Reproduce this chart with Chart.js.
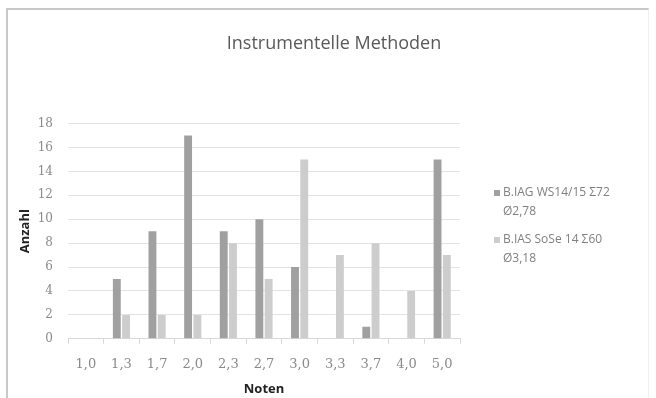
<!DOCTYPE html>
<html>
<head>
<meta charset="utf-8">
<script src="https://cdn.jsdelivr.net/npm/chart.js@4"></script>
<style>
html, body { margin: 0; padding: 0; background: #fff; }
#wrap { position: relative; width: 656px; height: 398px; }
#frame { position: absolute; left: 6px; top: 8px; width: 640px; height: 400px;
         border-left: 2px solid #c8c8c8; border-top: 2px solid #c8c8c8; border-right: 1px solid #f0f0f0;
         pointer-events: none; }
</style>
</head>
<body>
<div id="wrap">
  <canvas id="chart" width="656" height="398"></canvas>
  <div id="frame"></div>
</div>
<script>
const noten = ['1,0', '1,3', '1,7', '2,0', '2,3', '2,7', '3,0', '3,3', '3,7', '4,0', '5,0']
const iagWs = [0, 5, 9, 17, 9, 10, 6, 0, 1, 0, 15]
const iasSs = [0, 2, 2, 2, 8, 5, 15, 7, 8, 4, 7]
const iagLabel = ['B.IAG WS14/15 Σ72', 'Ø2,78']
const iasLabel = ['B.IAS SoSe 14 Σ60', 'Ø3,18']

// legend on the right with two-line labels, like the Excel original
const sideLegend = {
    id: 'sideLegend',
    afterDraw(chart, args, opts) {
        const ctx = chart.ctx
        ctx.save()
        ctx.font = opts.font
        ctx.textBaseline = 'middle'
        chart.data.datasets.forEach((ds, i) => {
            const y = opts.top + i * opts.itemGap
            ctx.fillStyle = ds.backgroundColor
            ctx.fillRect(opts.left, y - 3, 6, 6)
            ctx.fillStyle = opts.color
            ds.label.forEach((line, j) => ctx.fillText(line, opts.left + 9, y + j * opts.lineHeight))
        })
        ctx.restore()
    }
}

const ctx = document.getElementById('chart').getContext('2d')

const chart = new Chart(ctx, {
    type: 'bar',
    data: {
        labels: noten,
        datasets: [{
            label: iagLabel,
            data: iagWs,
            backgroundColor: '#a0a0a0',
        }, {
            label: iasLabel,
            data: iasSs,
            backgroundColor: '#cdcdcd',
        }]
    },
    options: {
        responsive: false,
        animation: false,
        categoryPercentage: 0.52,
        barPercentage: 0.85,
        layout: {
            padding: { left: 14, right: 2, top: 33, bottom: 1 }
        },
        plugins: {
            legend: { display: false },
            tooltip: { enabled: false },
            title: {
                display: true,
                text: 'Instrumentelle Methoden',
                color: '#595959',
                font: { family: 'Open Sans', size: 18, weight: 'normal' },
                padding: { top: 0, bottom: 69 }
            },
            sideLegend: {
                left: 494,
                top: 193,
                itemGap: 47,
                lineHeight: 19,
                color: '#808080',
                font: '12px "Open Sans"'
            }
        },
        scales: {
            x: {
                grid: {
                    drawOnChartArea: false,
                    color: '#d9d9d9',
                    tickLength: 5
                },
                border: { color: '#d9d9d9' },
                ticks: {
                    color: '#8a8a8a',
                    padding: 13,
                    font: { family: 'DejaVu Serif', size: 13 }
                },
                title: {
                    display: true,
                    text: 'Noten',
                    color: '#222',
                    padding: { top: -4, bottom: 0 },
                    font: { family: 'Open Sans', size: 13, weight: 'bold' }
                }
            },
            y: {
                min: 0,
                max: 18,
                afterFit: (scale) => { scale.width = 54 },
                ticks: {
                    stepSize: 2,
                    color: '#8a8a8a',
                    padding: 15,
                    font: { family: 'DejaVu Serif', size: 12 }
                },
                grid: { color: '#e3e3e3', drawTicks: false },
                border: { display: false },
                title: {
                    display: true,
                    text: 'Anzahl',
                    color: '#222',
                    padding: { top: 3, bottom: 4 },
                    font: { family: 'Open Sans', size: 13, weight: 'bold' }
                }
            },
            // empty axis that only reserves the room for the legend on the right
            side: {
                position: 'right',
                afterFit: (scale) => { scale.width = 194 },
                ticks: { display: false },
                grid: { display: false },
                border: { display: false }
            }
        }
    },
    plugins: [sideLegend]
})
</script>
</body>
</html>
